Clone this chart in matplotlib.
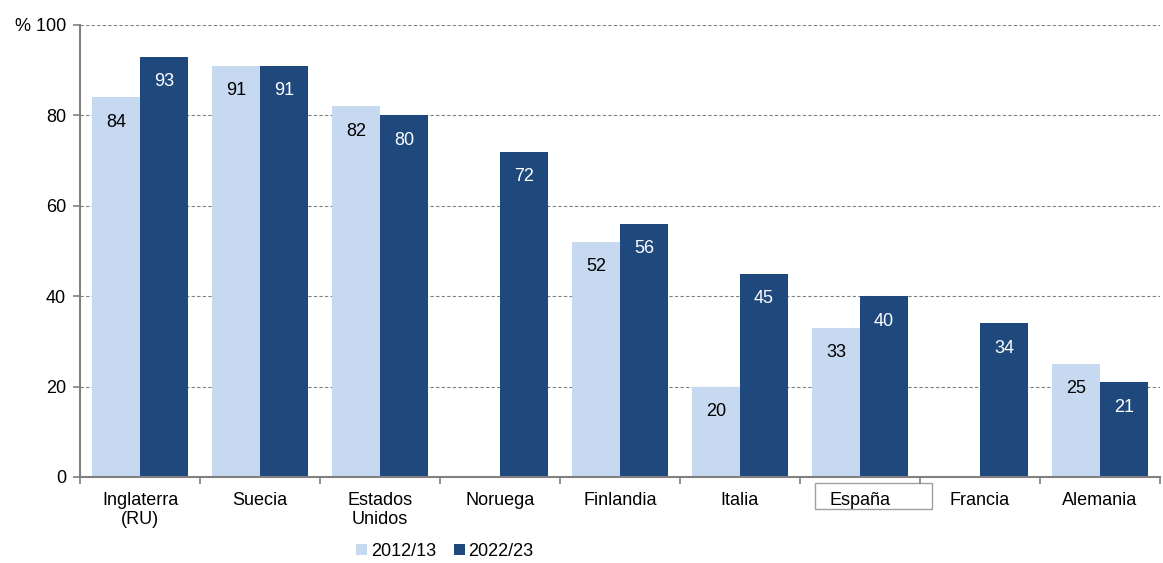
import numpy as np
import matplotlib
matplotlib.use('Agg')
import matplotlib.pyplot as plt
from matplotlib.patches import Rectangle
import matplotlib.transforms as mtransforms

plt.rcParams['font.family'] = ['Liberation Sans', 'DejaVu Sans']

countries = ["Inglaterra\n(RU)", "Suecia", "Estados\nUnidos", "Noruega", "Finlandia",
             "Italia", "España", "Francia", "Alemania"]
vals_2012 = [84, 91, 82, np.nan, 52, 20, 33, np.nan, 25]
vals_2022 = [93, 91, 80, 72, 56, 45, 40, 34, 21]
series_names = ["2012/13", "2022/23"]
yticks = [0, 20, 40, 60, 80, 100]
ytick_labels = ["0", "20", "40", "60", "80", "% 100"]

c_light = "#c6d9f1"
c_dark = "#1f497d"

fig = plt.figure(figsize=(11.63, 5.63), dpi=100)
ax = fig.add_axes([0.0688, 0.1528, 0.9286, 0.8028])

x = np.arange(len(countries))
w = 0.4
ax.bar(x - w/2, vals_2012, w, color=c_light, label=series_names[0], zorder=2)
ax.bar(x + w/2, vals_2022, w, color=c_dark, label=series_names[1], zorder=2)

# value labels inside bars, near the top
for xi, v in zip(x, vals_2012):
    if not np.isnan(v):
        ax.annotate(str(int(v)), (xi - w/2, v), xytext=(0, -25), textcoords="offset pixels",
                    ha="center", va="center", fontsize=13, color="black", zorder=3)
for xi, v in zip(x, vals_2022):
    ax.annotate(str(int(v)), (xi + w/2, v), xytext=(0, -25), textcoords="offset pixels",
                ha="center", va="center", fontsize=13, color="white", zorder=3)

ax.set_xlim(-0.5, len(countries) - 0.5)
ax.set_ylim(0, 100)
ax.set_yticks(yticks)
ax.set_yticklabels(ytick_labels, fontsize=13)
for yv in yticks[1:]:
    ax.axhline(yv, color="#808080", lw=0.8, ls=(0, (3, 2)), zorder=1)

# category ticks at group boundaries, labels at centers
ax.set_xticks(np.arange(len(countries) + 1) - 0.5)
ax.set_xticklabels([])
ax.set_xticks(x, minor=True)
ax.set_xticklabels(countries, minor=True, fontsize=13, va="top", linespacing=1.1)
ax.tick_params(axis="x", which="minor", length=0, pad=11)
ax.tick_params(axis="x", which="major", length=5, color="#808080", width=1.2)
ax.tick_params(axis="y", length=5, color="#808080", width=1.2, pad=5)

for s in ["top", "right"]:
    ax.spines[s].set_visible(False)
for s in ["left", "bottom"]:
    ax.spines[s].set_color("#808080")
    ax.spines[s].set_linewidth(1.5)

# box around España label
i_es = countries.index("España")
trans = mtransforms.blended_transform_factory(ax.transData, ax.transAxes)
ax.add_patch(Rectangle((i_es - 0.375, -0.071), 0.975, 0.058, transform=trans,
                       fc="none", ec="#a0a0a0", lw=1, clip_on=False))

ax.legend(loc="center", bbox_to_anchor=(0.338, -0.164), ncol=2, frameon=False,
          fontsize=13, handlelength=0.6, handleheight=0.6, handletextpad=0.2,
          columnspacing=1.0, borderaxespad=0)

fig.savefig("out.png", dpi=100)
